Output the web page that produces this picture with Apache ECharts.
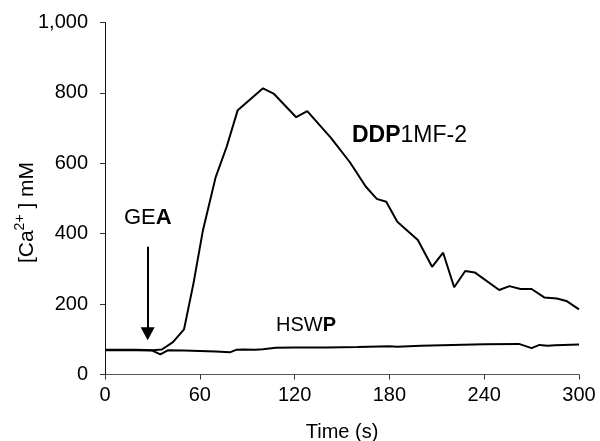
<!DOCTYPE html>
<html><head><meta charset="utf-8">
<script src="https://cdn.jsdelivr.net/npm/echarts@6/dist/echarts.min.js"></script>
<style>html,body{margin:0;padding:0;background:#fff}#c{width:600px;height:441px}</style>
</head><body><div id="c"></div>
<script>
// Time (s) samples and [Ca2+] values
const ddpTime = [0,10,20,30,36,43,50,56,62,70,77,84,100,107,121,128,143,155,165,172,178,185,198,207,214,221,228,234,249.5,256,263,270,278,286,292,300];
const ddpValues = [70,70,70,69,71,92,128,259,410,560,647,751,813,797,731,748,672,603,534,499,491,434,382,306,346,248,294,290,240,251,243,243,219,216,209,185];
const hswpTime = [0,10,20,30,35,40,50,60,70,79,83,88,95,100,108,120,140,160,180,185,200,220,240,262,270,275,280,285,300];
const hswpValues = [69,69,69,68,57,69,68,67,65,63,70,71,70,72,76,77,77,78,80,79,82,84,86,87,75,84,82,83,85];
const xTicks = [0,60,120,180,240,300];
const yTicks = [0,200,400,600,800,1000];
// Stimulus arrow (time, from value, to value)
const arrowTime = 27, arrowFrom = 363, arrowTo = 116;

const F = '"Liberation Sans", Arial, sans-serif';
const chart = echarts.init(document.getElementById('c'), null, {renderer:'canvas'});
const zip = (a,b) => a.map((t,i) => [t,b[i]]);
const axisCol = '#333';

const option = {
  animation:false,
  backgroundColor:'#fff',
  grid:{left:105,right:21,top:22.5,bottom:66.5,containLabel:false,outerBoundsMode:'none'},
  xAxis:{
    type:'value', min:xTicks[0], max:xTicks[xTicks.length-1], interval:60,
    axisLine:{show:true,lineStyle:{color:'#555',width:1}},
    axisTick:{show:true,length:5,lineStyle:{color:axisCol}},
    splitLine:{show:false},
    axisLabel:{fontFamily:F,fontSize:20,color:'#000',margin:11},
    name:'Time (s)', nameLocation:'middle', nameGap:48, nameMoveOverlap:false,
    nameTextStyle:{fontFamily:F,fontSize:20,color:'#000'}
  },
  yAxis:{
    type:'value', min:yTicks[0], max:yTicks[yTicks.length-1], interval:200,
    axisLine:{show:true,lineStyle:{color:'#111',width:1}},
    axisTick:{show:true,length:5,lineStyle:{color:axisCol}},
    splitLine:{show:false},
    axisLabel:{fontFamily:F,fontSize:20,color:'#000',margin:17,
      formatter:v=>v.toLocaleString('en-US')},
    name:'{n|[Ca}{s|2+}{n| ] mM}', nameLocation:'middle', nameGap:64, nameRotate:90,
    nameMoveOverlap:false,
    nameTextStyle:{
      fontFamily:F, fontSize:21, color:'#000',
      padding:[0,28,0,0],
      rich:{
        n:{fontFamily:F,fontSize:21,color:'#000'},
        s:{fontFamily:F,fontSize:14,color:'#000',padding:[0,0,14,0]}
      }
    }
  },
  series:[
    {type:'line',name:'DDP1MF-2',data:zip(ddpTime,ddpValues),showSymbol:false,symbol:'none',
     lineStyle:{color:'#000',width:2},itemStyle:{color:'#000'}},
    {type:'line',name:'HSWP',data:zip(hswpTime,hswpValues),showSymbol:false,symbol:'none',
     lineStyle:{color:'#000',width:2},itemStyle:{color:'#000'},
     markLine:{silent:true,symbol:['none','triangle'],symbolSize:[14,13],
       lineStyle:{color:'#000',width:2,type:'solid'},label:{show:false},
       data:[[{coord:[arrowTime,arrowFrom]},{coord:[arrowTime,arrowTo]}]]}}
  ],
  graphic:[
    {type:'text',left:124,top:207,style:{text:'{r|GE}{b|A}',rich:{
      r:{fontFamily:F,fontSize:22,fill:'#000'},b:{fontFamily:F,fontSize:22,fontWeight:'bold',fill:'#000'}}}},
    {type:'text',left:276,top:315,style:{text:'{r|HSW}{b|P}',rich:{
      r:{fontFamily:F,fontSize:20,fill:'#000'},b:{fontFamily:F,fontSize:20,fontWeight:'bold',fill:'#000'}}}},
    {type:'text',left:352,top:124,style:{text:'{b|DDP}{r|1MF-2}',rich:{
      r:{fontFamily:F,fontSize:23,fill:'#000'},b:{fontFamily:F,fontSize:23,fontWeight:'bold',fill:'#000'}}}}
  ]
};
chart.setOption(option);
</script></body></html>
